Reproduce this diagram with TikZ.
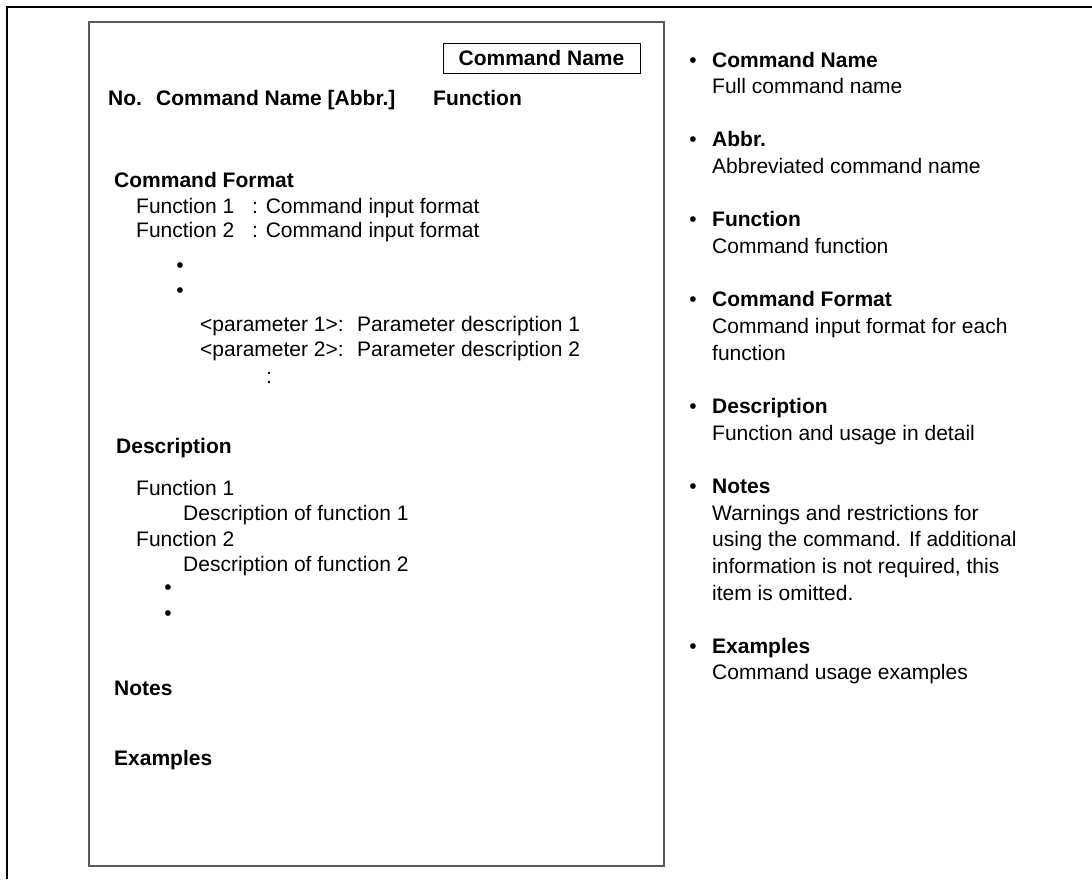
\documentclass[tikz,border=0pt]{standalone}
\usepackage{fontspec}
\setmainfont{Liberation Sans}

% right column: first baseline and line pitch
\newcommand\RY{67}
\newcommand\RL{26.65}
\newcommand\RX{712}

\begin{document}
\begin{tikzpicture}[x=1pt, y=-1pt,
  txt/.style={anchor=base west, inner sep=0pt, font=\fontsize{21}{25}\selectfont},
  head/.style={txt, font=\fontsize{21}{25}\selectfont\bfseries},
  dot/.style={anchor=base, inner sep=0pt, font=\fontsize{21}{25}\selectfont},
  page/.style={draw=black!65, line width=1.5pt}]

  \useasboundingbox (0,0) rectangle (1092,879);

  % page border (only top and left visible)
  \draw[line width=2.5pt] (7,879) -- (7,7) -- (1092,7);

  % sample page
  \draw[page] (89,22) rectangle (664,866);
  \node[draw, line width=1pt, minimum width=197pt, minimum height=30pt, inner sep=0pt,
        font=\fontsize{21}{25}\selectfont\bfseries] (cmdname) at (541.5,58) {Command Name};

  \node[head] (no)    at (108,105) {No.};
  \node[head] (cname) at (156,105) {Command Name [Abbr.]};
  \node[head] (func)  at (433,105) {Function};

  \node[head] (fmt) at (114,187) {Command Format};
  \node[txt] (f1)   at (136,213) {Function 1};
  \node[txt] (f1in) at (252,213) {: Command input format};
  \node[txt] (f2)   at (136,237) {Function 2};
  \node[txt] (f2in) at (252,237) {: Command input format};
  \node[dot] (fb1) at (180,272) {\textbullet};
  \node[dot] (fb2) at (180,297) {\textbullet};
  \node[txt] (p1)  at (200,331) {<parameter 1>:};
  \node[txt] (p1d) at (357,331) {Parameter description 1};
  \node[txt] (p2)  at (200,356) {<parameter 2>:};
  \node[txt] (p2d) at (357,356) {Parameter description 2};
  \node[txt] (pc)  at (266,383) {:};

  \node[head] (desc) at (116,453) {Description};
  \node[txt] (d1)  at (136,495) {Function 1};
  \node[txt] (d1t) at (183,520) {Description of function 1};
  \node[txt] (d2)  at (136,546) {Function 2};
  \node[txt] (d2t) at (183,571) {Description of function 2};
  \node[dot] (db1) at (168,594) {\textbullet};
  \node[dot] (db2) at (168,620) {\textbullet};

  \node[head] (notes) at (114,695) {Notes};
  \node[head] (exs)   at (114,765) {Examples};

  % legend on the right
  \node[dot]  (b1) at (693,\RY) {\textbullet};
  \node[head] (r1) at (\RX,\RY) {Command Name};
  \node[txt]  (r1a) at (\RX,{\RY+1*\RL}) {Full command name};

  \node[dot]  (b2) at (693,{\RY+3*\RL}) {\textbullet};
  \node[head] (r2) at (\RX,{\RY+3*\RL}) {Abbr.};
  \node[txt]  (r2a) at (\RX,{\RY+4*\RL}) {Abbreviated command name};

  \node[dot]  (b3) at (693,{\RY+6*\RL}) {\textbullet};
  \node[head] (r3) at (\RX,{\RY+6*\RL}) {Function};
  \node[txt]  (r3a) at (\RX,{\RY+7*\RL}) {Command function};

  \node[dot]  (b4) at (693,{\RY+9*\RL}) {\textbullet};
  \node[head] (r4) at (\RX,{\RY+9*\RL}) {Command Format};
  \node[txt]  (r4a) at (\RX,{\RY+10*\RL}) {Command input format for each};
  \node[txt]  (r4b) at (\RX,{\RY+11*\RL}) {function};

  \node[dot]  (b5) at (693,{\RY+13*\RL}) {\textbullet};
  \node[head] (r5) at (\RX,{\RY+13*\RL}) {Description};
  \node[txt]  (r5a) at (\RX,{\RY+14*\RL}) {Function and usage in detail};

  \node[dot]  (b6) at (693,{\RY+16*\RL}) {\textbullet};
  \node[head] (r6) at (\RX,{\RY+16*\RL}) {Notes};
  \node[txt]  (r6a) at (\RX,{\RY+17*\RL}) {Warnings and restrictions for};
  \node[txt]  (r6b) at (\RX,{\RY+18*\RL}) {using the command. If additional};
  \node[txt]  (r6c) at (\RX,{\RY+19*\RL}) {information is not required, this};
  \node[txt]  (r6d) at (\RX,{\RY+20*\RL}) {item is omitted.};

  \node[dot]  (b7) at (693,{\RY+22*\RL}) {\textbullet};
  \node[head] (r7) at (\RX,{\RY+22*\RL}) {Examples};
  \node[txt]  (r7a) at (\RX,{\RY+23*\RL}) {Command usage examples};
\end{tikzpicture}
\end{document}
